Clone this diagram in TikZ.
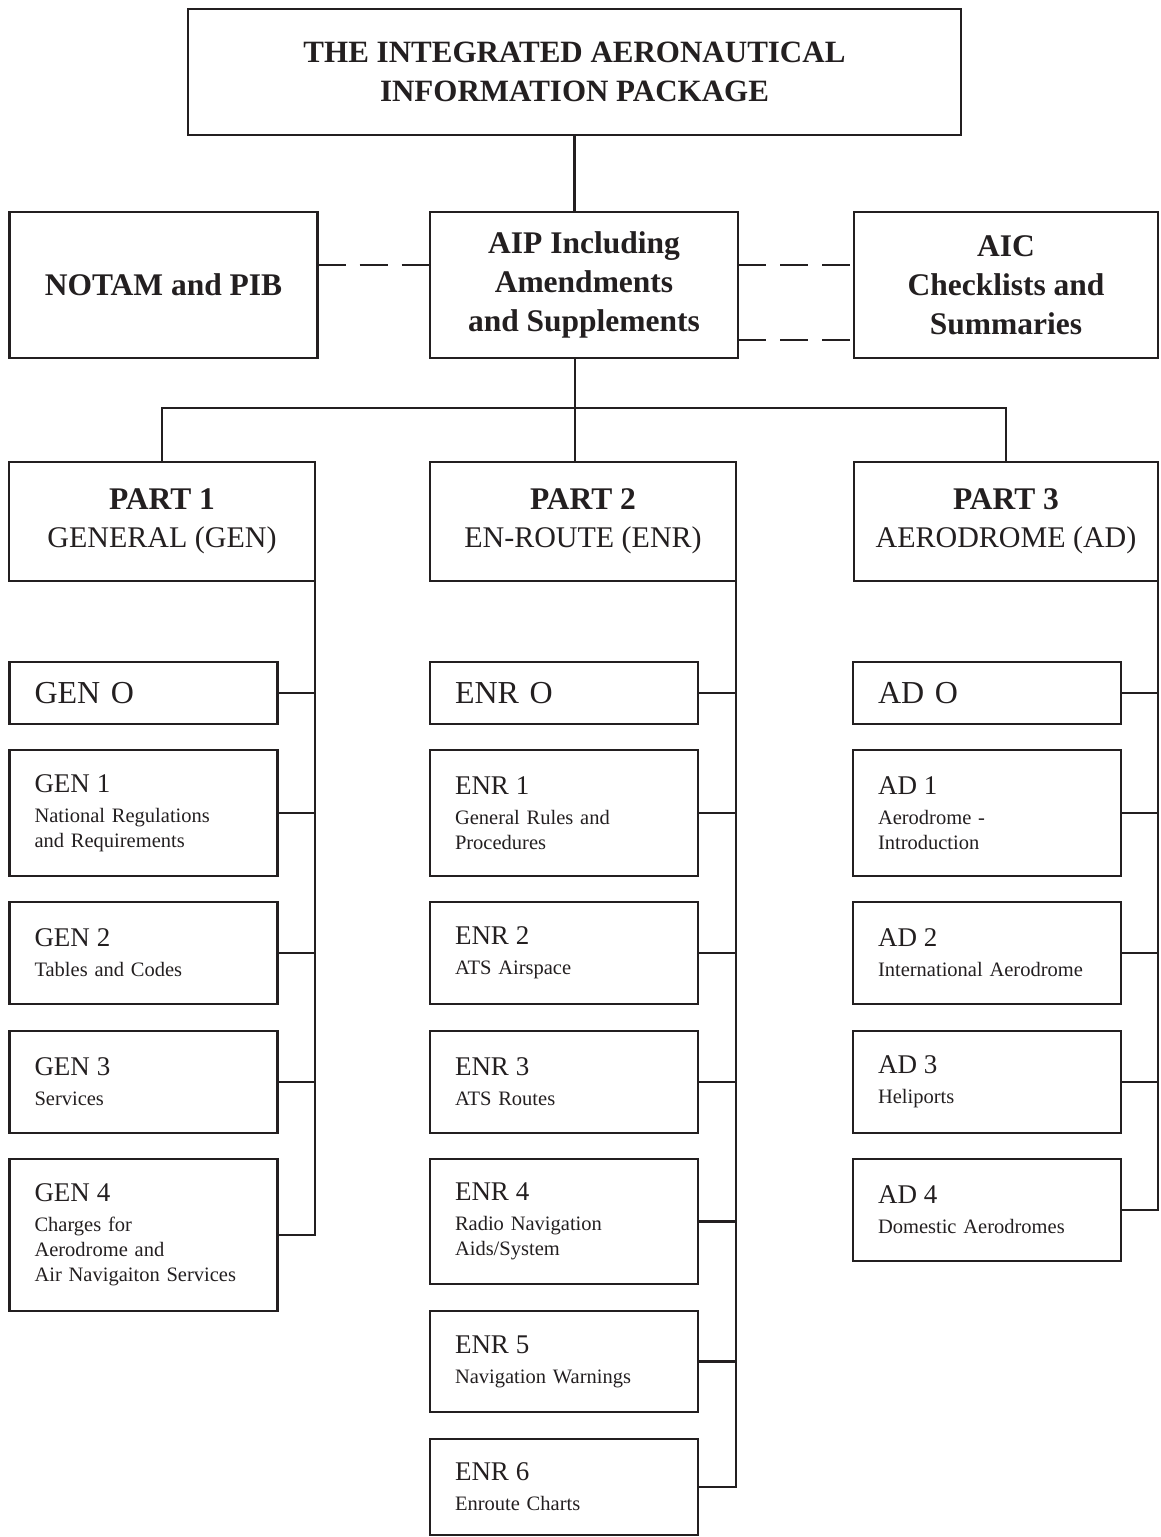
\documentclass[tikz,border=0pt]{standalone}
\usepackage{fontspec}
\setmainfont{Liberation Serif}
\definecolor{ink}{RGB}{35,31,32}
\newcommand{\subhead}[1]{{\fontsize{27}{25}\selectfont #1}\\[5pt]}

\begin{document}
\begin{tikzpicture}[x=1pt, y=-1pt, color=ink,
    box/.style={draw, line width=2.5pt, inner sep=0pt, outer sep=0pt, align=center},
    topbox/.style={box, minimum width=773pt, minimum height=126pt, font=\bfseries\fontsize{31}{38.5}\selectfont},
    midbox/.style={box, minimum width=308pt, minimum height=146pt, font=\bfseries\fontsize{31.5}{39}\selectfont},
    partbox/.style={box, minimum width=306pt, minimum height=119pt, font=\fontsize{30}{38}\selectfont},
    subbox/.style={box, anchor=north west, text width=218pt, inner xsep=25pt, align=left, font=\fontsize{20.5}{25}\selectfont},
    obox/.style={subbox, minimum height=62pt, font=\fontsize{32}{38}\selectfont},
    link/.style={line width=2.2pt},
    dashline/.style={link, dash pattern=on 28pt off 14pt}]
\useasboundingbox (0,0) rectangle (1160,1537);

% top level
\node[topbox] (title) at (574.5,72) {THE INTEGRATED AERONAUTICAL\\INFORMATION PACKAGE};
\node[midbox] (notam) at (163.5,285) {NOTAM and PIB};
\node[midbox] (aip) at (584,285) {AIP Including\\Amendments\\and Supplements};
\node[midbox, minimum width=304pt] (aic) at (1006,285) {AIC\\Checklists and\\Summaries};

% parts
\node[partbox] (part1) at (162,521.5) {\textbf{\fontsize{31.5}{38}\selectfont PART 1}\\GENERAL (GEN)};
\node[partbox] (part2) at (583,521.5) {\textbf{\fontsize{31.5}{38}\selectfont PART 2}\\EN-ROUTE (ENR)};
\node[partbox, minimum width=304pt] (part3) at (1006,521.5) {\textbf{\fontsize{31.5}{38}\selectfont PART 3}\\AERODROME (AD)};

% GEN column
\node[obox] (gen0) at (9.5,662) {GEN O};
\node[subbox, minimum height=126pt] (gen1) at (9.5,750) {\subhead{GEN 1}National Regulations\\and Requirements};
\node[subbox, minimum height=102pt] (gen2) at (9.5,902) {\subhead{GEN 2}Tables and Codes};
\node[subbox, minimum height=102pt] (gen3) at (9.5,1031) {\subhead{GEN 3}Services};
\node[subbox, minimum height=152pt] (gen4) at (9.5,1159) {\subhead{GEN 4}Charges for\\Aerodrome and\\Air Navigaiton Services};

% ENR column
\node[obox] (enr0) at (430,662) {ENR O};
\node[subbox, minimum height=126pt] (enr1) at (430,750) {\subhead{ENR 1}General Rules and\\Procedures};
\node[subbox, minimum height=102pt] (enr2) at (430,902) {\subhead{ENR 2}ATS Airspace};
\node[subbox, minimum height=102pt] (enr3) at (430,1031) {\subhead{ENR 3}ATS Routes};
\node[subbox, minimum height=125pt] (enr4) at (430,1159) {\subhead{ENR 4}Radio Navigation\\Aids/System};
\node[subbox, minimum height=101pt] (enr5) at (430,1311) {\subhead{ENR 5}Navigation Warnings};
\node[subbox, minimum height=96pt] (enr6) at (430,1439) {\subhead{ENR 6}Enroute Charts};

% AD column
\node[obox] (ad0) at (853,662) {AD O};
\node[subbox, minimum height=126pt] (ad1) at (853,750) {\subhead{AD 1}Aerodrome -\\Introduction};
\node[subbox, minimum height=102pt] (ad2) at (853,902) {\subhead{AD 2}International Aerodrome};
\node[subbox, minimum height=102pt] (ad3) at (853,1031) {\subhead{AD 3}Heliports};
\node[subbox, minimum height=102pt] (ad4) at (853,1159) {\subhead{AD 4}Domestic Aerodromes};

% tree lines
\coordinate (hub) at (575,408);
\draw[link] (title.south) -- (title.south |- aip.north);
\draw[link] (hub |- aip.south) -- (hub);
\draw[link] (part1.north) |- (hub) -| (part3.north);
\draw[link] (hub) -- (hub |- part2.north);

% dashed links
\draw[dashline] ([yshift=20pt]notam.east) -- ([yshift=20pt]aip.west);
\draw[dashline] ([yshift=20pt]aip.east) -- ([yshift=20pt]aic.west);
\draw[dashline] ([yshift=-55pt]aip.east) -- ([yshift=-55pt]aic.west);

% buses
\draw[link] (part1.south east) |- (gen4.east);
\foreach \n in {gen0,gen1,gen2,gen3}
  \draw[link] (\n.east) -- (\n.east -| part1.south east);
\draw[link] (part2.south east) |- (enr6.east);
\foreach \n in {enr0,enr1,enr2,enr3,enr4,enr5}
  \draw[link] (\n.east) -- (\n.east -| part2.south east);
\draw[link] (part3.south east) |- (ad4.east);
\foreach \n in {ad0,ad1,ad2,ad3}
  \draw[link] (\n.east) -- (\n.east -| part3.south east);
\end{tikzpicture}
\end{document}
